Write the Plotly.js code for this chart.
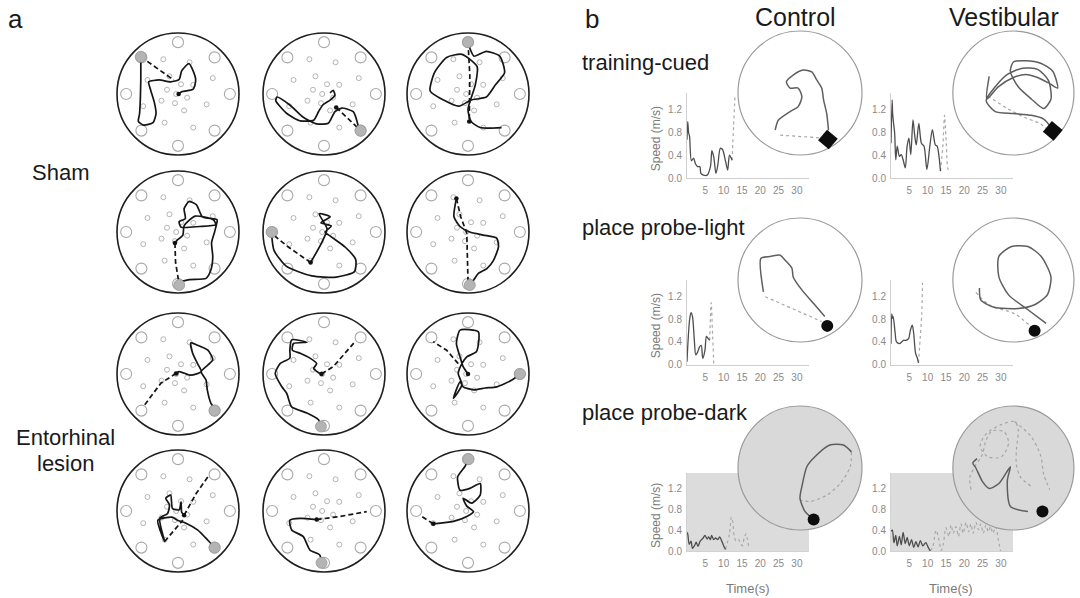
<!DOCTYPE html>
<html><head><meta charset="utf-8">
<script src="https://cdn.plot.ly/plotly-3.0.1.min.js"></script>
<style>html,body{margin:0;padding:0;background:#fff}#chart{width:1080px;height:598px}</style>
</head><body><div id="chart"></div>
<script>
const W = 1080, H = 598;
const FONT = 'Liberation Sans, Arial, Helvetica, sans-serif';

// ---------- Panel a: arena cues (normalized arena units) ----------
const bigCueX = [0, 0.6, 0.85, 0.6, 0, -0.6, -0.85, -0.6];
const bigCueY = [0.85, 0.6, 0, -0.6, -0.85, -0.6, 0, 0.6];
const smallCueX = [-0.24, 0.19, -0.14, -0.5, 0.57, 0.05, 0.25, -0.18, -0.03, 0.15, -0.27, -0.05, 0.47, -0.57, 0.1, -0.22, 0.25];
const smallCueY = [0.57, 0.52, 0.29, 0.23, 0.26, 0.16, 0.15, 0.07, 0.0, -0.06, -0.11, -0.15, -0.17, -0.2, -0.27, -0.47, -0.55];

// ---------- Panel a: trajectories (12 trials, row-major) ----------
const aSolidX = [
  [-0.61,-0.61,-0.63,-0.65,-0.56,-0.41,-0.36,-0.39,-0.45,-0.48,-0.31,-0.12,0.02,0.06,0.18,0.23,0.29,0.25,0.07,0.01],
  [0.1,0.15,0.18,0.1,-0.02,-0.09,-0.17,-0.39,-0.61,-0.79,-0.77,-0.56,-0.34,-0.12,0.07,0.18,0.29,0.48,0.56],
  [0.02,0.1,0.3,0.52,0.6,0.45,0.3,0.05,-0.15,-0.4,-0.62,-0.55,-0.35,-0.1,0.15,0.12,0.0,0.05,0.2,0.55],
  [0.02,0.19,0.46,0.54,0.57,0.55,0.6,0.63,0.64,0.4,0.3,0.18,0.1,0.12,0.02,0.05,0.35,0.62,0.58,0.28,0.1,0.08,-0.02,-0.05],
  [-0.86,-0.82,-0.62,-0.2,0.2,0.5,0.52,0.35,0.12,0.02,0.12,-0.05,0.1,-0.08,0.05,-0.05,-0.22],
  [-0.19,-0.23,-0.13,0.03,0.25,0.47,0.5,0.42,0.31,0.17,0.09,0.03],
  [0.6,0.54,0.48,0.46,0.38,0.57,0.49,0.3,0.21,0.24,0.32,0.38,0.21,0.02,-0.03],
  [-0.05,-0.09,-0.28,-0.53,-0.61,-0.69,-0.8,-0.72,-0.56,-0.56,-0.53,-0.28,-0.5,-0.52,-0.39,-0.23,-0.12,-0.17,-0.07,-0.04],
  [0.85,0.72,0.47,0.28,0.09,-0.08,-0.13,-0.24,-0.1,-0.16,-0.1,-0.02,0.14,0.17,-0.13,-0.19,-0.13,-0.08,0.0],
  [0.6,0.49,0.32,0.13,-0.01,-0.1,-0.33,-0.22,-0.3,-0.17,-0.14,-0.2,-0.12,-0.09,0.02,0.05,0.06,0.1],
  [-0.04,-0.07,-0.23,-0.34,-0.53,-0.56,-0.39,-0.12],
  [0.01,-0.05,-0.17,-0.13,0.03,0.2,0.2,0.06,-0.08,-0.02,0.09,-0.02,-0.24,-0.57]
];
const aSolidY = [
  [0.61,0.23,-0.32,-0.45,-0.51,-0.47,-0.32,-0.13,0.07,0.2,0.23,0.2,0.24,0.38,0.5,0.42,0.23,0.08,0.04,0.0],
  [0.02,0.06,-0.02,-0.1,-0.18,-0.29,-0.43,-0.44,-0.32,-0.11,-0.05,-0.18,-0.38,-0.49,-0.48,-0.29,-0.23,-0.29,-0.52],
  [0.78,0.62,0.7,0.62,0.35,0.15,-0.05,-0.1,-0.2,-0.1,0.05,0.35,0.6,0.65,0.45,0.15,-0.25,-0.45,-0.55,-0.55],
  [-0.82,-0.78,-0.76,-0.62,-0.4,-0.18,0.0,0.12,0.2,0.25,0.45,0.5,0.38,0.22,0.17,0.08,0.09,0.12,0.2,0.26,0.1,-0.05,-0.14,-0.18],
  [-0.02,-0.3,-0.56,-0.72,-0.74,-0.65,-0.45,-0.25,-0.08,0.0,0.1,0.15,0.25,0.3,0.05,-0.2,-0.5],
  [0.55,0.25,0.09,0.0,-0.05,-0.1,-0.24,-0.46,-0.6,-0.68,-0.79,-0.85],
  [-0.56,-0.48,-0.26,-0.1,0.04,0.23,0.39,0.48,0.51,0.34,0.17,0.04,-0.02,0.04,0.01],
  [-0.86,-0.75,-0.64,-0.54,-0.32,-0.21,0.01,0.17,0.26,0.39,0.56,0.52,0.5,0.39,0.34,0.26,0.17,0.09,0.01,0.0],
  [0.0,-0.1,-0.21,-0.23,-0.26,-0.21,-0.13,-0.4,-0.18,0.01,0.17,0.28,0.37,0.69,0.72,0.5,0.28,0.12,0.0],
  [-0.6,-0.48,-0.31,-0.2,-0.15,-0.1,-0.15,-0.5,-0.12,-0.04,0.1,0.21,0.26,0.04,0.02,0.15,-0.02,-0.07],
  [-0.85,-0.72,-0.64,-0.42,-0.31,-0.15,-0.12,-0.14],
  [0.85,0.73,0.56,0.34,0.37,0.45,0.26,0.13,0.21,0.08,-0.01,-0.09,-0.17,-0.21]
];
const aDashX = [
  [-0.61,-0.07],[0.2,0.58],[0.0,0.03,0.02],[-0.05,-0.04,0.01],[-0.22,-0.58,-0.84],
  [-0.19,-0.12,-0.02,0.0],[-0.03,-0.28,-0.55],[-0.04,0.15,0.51],[-0.16,-0.35,-0.57],
  [0.1,0.3,0.49,null,-0.22,0.08],[-0.12,0.26,0.7],[-0.57,-0.79]
];
const aDashY = [
  [0.61,0.23],[-0.22,-0.58],[0.85,0.3,-0.45],[-0.18,-0.5,-0.8],[-0.5,-0.25,-0.04],
  [0.55,0.25,-0.02,-0.8],[0.01,-0.15,-0.51],[0.0,0.12,0.53],[0.17,0.39,0.53],
  [-0.07,0.29,0.56,null,-0.5,-0.15],[-0.14,-0.09,-0.01],[-0.21,-0.07]
];
const aStartX = [-0.61,0.6,0.0,0.02,-0.86,0.03,0.6,-0.05,0.85,0.6,-0.04,0.01];
const aStartY = [0.61,-0.6,0.85,-0.87,0.0,-0.87,-0.6,-0.86,0.0,-0.6,-0.85,0.85];
const aDotX = [0.01,0.2,0.02,-0.05,-0.22,-0.19,-0.03,-0.04,0.0,0.1,-0.12,-0.57];
const aDotY = [0.0,-0.22,-0.45,-0.18,-0.5,0.55,0.01,0.0,0.0,-0.07,-0.14,-0.21];
const aRowLabels = ['Sham', 'Entorhinal', 'lesion'];

// ---------- Panel b: speed profiles (Time s, Speed m/s) ----------
const bConditions = ['training-cued', 'place probe-light', 'place probe-dark'];
const bGroups = ['Control', 'Vestibular'];
const speedSolidT = [
  [0,0.2,0.45,0.7,1.2,1.8,2.3,2.9,3.5,3.8,4.5,5.5,6.4,6.8,7.3,7.9,8.4,9.1,9.7,10.5,11.1,11.6,12.3],
  [0,0.3,0.45,0.7,1.0,1.3,1.7,2.3,2.8,3.3,3.9,4.4,4.9,5.4,6.0,6.5,6.9,7.6,8.3,9.0,9.8,10.6,11.3,12.1,12.6,13.1,13.5],
  [0,0.3,0.7,1.1,1.5,2.0,2.4,2.9,3.4,3.9,4.3,4.9,5.3,5.8,6.2],
  [0,0.2,0.45,0.6,1.1,1.5,2.3,2.9,3.4,4.1,4.8,5.3,5.8,6.2,6.7,7.2,7.5],
  [0,0.2,0.6,1.1,1.5,2.1,2.5,3.0,3.6,4.4,4.9,5.5,5.9,6.4,6.7,7.3,7.8,8.4,8.9,9.5,10.0,10.5],
  [0,0.36,0.8,1.3,1.7,2.3,2.8,3.3,3.9,4.4,5.0,5.6,6.2,6.8,7.4,8.0,8.7,9.5,10.1,10.7]
];
const speedSolidV = [
  [0.67,0.99,0.79,0.73,0.3,0.35,0.25,0.2,0.2,0.08,0.05,0.05,0.2,0.48,0.37,0.08,0.22,0.52,0.5,0.3,0.14,0.4,0.31],
  [0.61,1.37,1.13,0.96,0.79,0.32,0.56,0.38,0.41,0.32,0.18,0.56,0.7,0.41,1.02,0.73,0.58,0.96,0.61,0.56,0.15,0.56,0.85,0.58,0.56,0.38,0.12],
  [0.05,0.43,0.79,0.92,0.85,0.43,0.17,0.22,0.31,0.34,0.11,0.25,0.5,0.46,0.43],
  [0.37,0.9,0.82,0.85,0.58,0.4,0.37,0.4,0.43,0.43,0.46,0.61,0.7,0.55,0.2,0.11,0.03],
  [0.36,0.33,0.13,0.19,0.05,0.11,0.17,0.09,0.19,0.25,0.3,0.23,0.27,0.22,0.3,0.22,0.25,0.22,0.27,0.19,0.1,0.03],
  [0.38,0.4,0.16,0.3,0.1,0.28,0.12,0.36,0.14,0.26,0.1,0.22,0.07,0.18,0.08,0.2,0.1,0.16,0.08,0.0]
];
const speedDotT = [
  [12.3,12.7,13.0,13.1],
  [13.5,14.2,14.6,15.1,15.6,16.2],
  [6.2,6.6,7.0,7.3],
  [7.5,8.0,8.4,8.6],
  [10.5,11.6,12.1,12.5,12.9,13.4,14.1,14.5,15.1,15.6,16.1,16.5,16.9],
  [10.7,11.4,12.3,13.1,13.7,14.3,15.0,15.8,16.4,17.0,17.7,18.4,19.1,19.7,20.5,21.2,21.8,22.4,23.2,23.9,24.5,25.2,25.9,26.6,27.2,27.8,28.6,29.3,29.9]
];
const speedDotV = [
  [0.31,0.9,1.3,1.45],
  [0.12,0.6,1.1,0.6,0.15,0.2],
  [0.43,1.1,0.5,0.02],
  [0.03,0.5,0.9,1.45],
  [0.03,0.33,0.65,0.56,0.27,0.19,0.22,0.16,0.1,0.25,0.33,0.22,0.05],
  [0.0,0.08,0.4,0.21,0.01,0.14,0.45,0.28,0.5,0.34,0.47,0.28,0.52,0.34,0.55,0.37,0.52,0.34,0.55,0.41,0.52,0.34,0.5,0.37,0.47,0.34,0.47,0.21,0.0]
];
const speedTicksX = [5, 10, 15, 20, 25, 30];
const speedTicksY = [0, 0.4, 0.8, 1.2];
const speedTickText = ['0.0', '0.4', '0.8', '1.2'];

// ---------- Panel b: swim paths (normalized arena units) ----------
const bPathX = [
  [-0.4,-0.35,-0.16,-0.03,0.03,-0.03,-0.16,-0.22,-0.11,0.05,0.19,0.27,0.35,0.38,0.43,0.46],
  [-0.4,-0.44,-0.25,0.0,0.2,0.4,0.6,0.73,0.65,0.45,0.2,0.0,-0.05,0.08,0.3,0.5,0.62,0.58,0.4,0.15,-0.1,-0.3,-0.45,-0.3,0.0,0.3,0.5,0.62],
  [-0.59,-0.63,-0.48,-0.32,-0.24,-0.13,-0.11,0.03,0.22,0.4],
  [-0.56,-0.54,-0.32,0.08,0.35,0.56,0.62,0.46,0.24,-0.03,-0.24,-0.24,-0.08,0.24,0.54],
  [0.22,0.08,0.0,0.03,0.11,0.22,0.48,0.7,0.83],
  [-0.6,-0.67,-0.62,-0.51,-0.4,-0.24,-0.05,-0.1,-0.05,0.24]
];
const bPathY = [
  [-0.6,-0.44,-0.3,-0.22,-0.06,0.08,0.08,0.18,0.29,0.37,0.34,0.21,0.08,-0.11,-0.33,-0.6],
  [0.27,-0.1,0.1,0.25,0.3,0.25,0.15,0.08,0.35,0.48,0.52,0.5,0.35,0.1,-0.1,-0.25,-0.1,0.2,0.38,0.4,0.3,0.1,-0.12,-0.3,-0.33,-0.36,-0.42,-0.55],
  [-0.19,0.35,0.38,0.4,0.32,0.19,0.05,-0.16,-0.38,-0.59],
  [-0.13,-0.32,-0.44,-0.46,-0.4,-0.24,0.05,0.38,0.54,0.54,0.38,0.05,-0.24,-0.48,-0.7],
  [-0.83,-0.7,-0.49,-0.3,0.02,0.16,0.37,0.37,0.26],
  [0.15,0.08,0.0,-0.22,-0.33,-0.25,0.02,-0.2,-0.62,-0.7]
];
const bTraceX = [
  [-0.32,0.43],
  [-0.42,-0.1,0.2,0.45,0.6],
  [-0.56,0.35],
  [-0.62,-0.4,0.03,0.32],
  [0.83,0.81,0.65,0.43,0.16,0.02],
  [-0.7,-0.72,-0.62,-0.52,-0.45,-0.35,-0.15,-0.08,-0.2,-0.42,-0.55,-0.45,-0.2,0.02,0.08,0.05,0.05,0.12,0.3,null,0.02,0.3,0.45,0.5,0.6]
];
const bTraceY = [
  [-0.68,-0.73],
  [-0.05,-0.25,-0.4,-0.5,-0.62],
  [-0.27,-0.67],
  [-0.2,-0.4,-0.55,-0.78],
  [0.26,0.02,-0.25,-0.44,-0.54,-0.52],
  [-0.35,-0.15,0.05,0.2,0.45,0.6,0.58,0.4,0.18,0.18,0.35,0.55,0.7,0.75,0.62,0.3,0.05,-0.15,-0.3,null,0.75,0.5,0.2,-0.1,-0.35]
];
const bGoalX = [0.45, 0.65, 0.44, 0.35, 0.22, 0.48];
const bGoalY = [-0.75, -0.61, -0.74, -0.82, -0.83, -0.7];
const bGoalSymbol = ['square', 'square', 'circle', 'circle', 'circle', 'circle'];

// ---------- layout geometry (pixels) ----------
const aColPx = [178, 324, 468], aRowPx = [94, 232, 374, 511], aR = 61;
const bColPx = [800, 1015], bRowPx = [93, 280, 468], bR = 62;
const spXPx = [[687, 809], [891, 1013]];
const spYPx = [[92.5, 178], [280, 364.5], [473, 551]];
const PAD = 1.1;

const fx = p => p / W;
const fy = p => 1 - p / H;

const traces = [];
const layout = {
  width: W, height: H, margin: {l: 0, r: 0, t: 0, b: 0},
  paper_bgcolor: '#ffffff', plot_bgcolor: 'rgba(0,0,0,0)',
  showlegend: false, font: {family: FONT},
  shapes: [], annotations: []
};
const axId = n => (n === 1 ? '' : String(n));

function arenaAxes(n, cx, cy, R) {
  const h = R * PAD;
  layout['xaxis' + axId(n)] = {domain: [fx(cx - h), fx(cx + h)], range: [-PAD, PAD], visible: false, fixedrange: true, anchor: 'y' + axId(n)};
  layout['yaxis' + axId(n)] = {domain: [fy(cy + h), fy(cy - h)], range: [-PAD, PAD], visible: false, fixedrange: true, anchor: 'x' + axId(n)};
}

// Panel a
let n = 0;
for (let r = 0; r < 4; r++) {
  for (let c = 0; c < 3; c++) {
    const i = r * 3 + c;
    n++;
    arenaAxes(n, aColPx[c], aRowPx[r], aR);
    const xa = 'x' + axId(n), ya = 'y' + axId(n);
    layout.shapes.push({type: 'circle', xref: xa, yref: ya, x0: -1, y0: -1, x1: 1, y1: 1, line: {color: '#1e1e1e', width: 1.6}, layer: 'below'});
    traces.push({type: 'scatter', mode: 'markers', x: bigCueX, y: bigCueY, xaxis: xa, yaxis: ya, cliponaxis: false,
      marker: {symbol: 'circle-open', size: 11, color: '#a9a9a9', line: {width: 1.1}}, hoverinfo: 'skip'});
    traces.push({type: 'scatter', mode: 'markers', x: smallCueX, y: smallCueY, xaxis: xa, yaxis: ya, cliponaxis: false,
      marker: {symbol: 'circle-open', size: 5, color: '#ababab', line: {width: 0.9}}, hoverinfo: 'skip'});
    traces.push({type: 'scatter', mode: 'lines', x: aDashX[i], y: aDashY[i], xaxis: xa, yaxis: ya, cliponaxis: false,
      line: {color: '#151515', width: 1.7, dash: '5px,3px'}, hoverinfo: 'skip'});
    traces.push({type: 'scatter', mode: 'lines', x: aSolidX[i], y: aSolidY[i], xaxis: xa, yaxis: ya, cliponaxis: false,
      line: {color: '#151515', width: 1.7, shape: 'spline', smoothing: 0.6}, hoverinfo: 'skip'});
    traces.push({type: 'scatter', mode: 'markers', x: [aStartX[i]], y: [aStartY[i]], xaxis: xa, yaxis: ya, cliponaxis: false,
      marker: {symbol: 'circle', size: 11, color: '#b4b4b4', line: {color: '#9a9a9a', width: 0.8}}, hoverinfo: 'skip'});
    traces.push({type: 'scatter', mode: 'markers', x: [aDotX[i]], y: [aDotY[i]], xaxis: xa, yaxis: ya, cliponaxis: false,
      marker: {symbol: 'circle', size: 4.5, color: '#111'}, hoverinfo: 'skip'});
  }
}

// Panel b speed plots
for (let r = 0; r < 3; r++) {
  for (let c = 0; c < 2; c++) {
    const i = r * 2 + c;
    n++;
    const xa = 'x' + axId(n), ya = 'y' + axId(n);
    const dark = r === 2;
    layout['xaxis' + axId(n)] = {
      domain: [fx(spXPx[c][0]), fx(spXPx[c][1])], range: [0, 33.3], anchor: ya,
      tickvals: speedTicksX, showline: true, linecolor: dark ? '#d2d2d2' : '#cfcfcf', linewidth: 1,
      showgrid: false, zeroline: false, ticks: 'outside', ticklen: 3, tickcolor: 'rgba(0,0,0,0)',
      tickfont: {size: 10, color: '#8a8a8a', family: FONT}, fixedrange: true
    };
    layout['yaxis' + axId(n)] = {
      domain: [fy(spYPx[r][1]), fy(spYPx[r][0])], range: [0, 1.5], anchor: xa,
      tickvals: speedTicksY, ticktext: speedTickText, showline: true, linecolor: dark ? '#d2d2d2' : '#cfcfcf', linewidth: 1,
      showgrid: false, zeroline: false, ticks: 'outside', ticklen: 2, tickcolor: 'rgba(0,0,0,0)',
      tickfont: {size: 10, color: '#8a8a8a', family: FONT}, fixedrange: true
    };
    if (dark) {
      layout.shapes.push({type: 'rect', xref: xa + ' domain', yref: ya + ' domain', x0: 0, x1: 1, y0: 0, y1: 1,
        fillcolor: '#dcdcdc', line: {width: 0}, layer: 'below'});
    }
    traces.push({type: 'scatter', mode: 'lines', x: speedDotT[i], y: speedDotV[i], xaxis: xa, yaxis: ya, cliponaxis: false,
      line: {color: '#a8a8a8', width: 1.2, dash: 'dot', shape: 'spline', smoothing: 0.8}, hoverinfo: 'skip'});
    traces.push({type: 'scatter', mode: 'lines', x: speedSolidT[i], y: speedSolidV[i], xaxis: xa, yaxis: ya, cliponaxis: false,
      line: {color: '#4d4d4d', width: 1.3, shape: 'spline', smoothing: 0.8}, hoverinfo: 'skip'});
  }
}

// Panel b arenas
for (let r = 0; r < 3; r++) {
  for (let c = 0; c < 2; c++) {
    const i = r * 2 + c;
    n++;
    arenaAxes(n, bColPx[c], bRowPx[r], bR);
    const xa = 'x' + axId(n), ya = 'y' + axId(n);
    const dark = r === 2;
    layout.shapes.push({type: 'circle', xref: xa, yref: ya, x0: -1, y0: -1, x1: 1, y1: 1,
      fillcolor: dark ? '#d9d9d9' : 'rgba(0,0,0,0)', line: {color: '#9a9a9a', width: 1.2}, layer: 'below'});
    traces.push({type: 'scatter', mode: 'lines', x: bTraceX[i], y: bTraceY[i], xaxis: xa, yaxis: ya, cliponaxis: false,
      line: {color: '#a5a5a5', width: 1.2, dash: 'dot', shape: 'spline', smoothing: 0.8}, hoverinfo: 'skip'});
    traces.push({type: 'scatter', mode: 'lines', x: bPathX[i], y: bPathY[i], xaxis: xa, yaxis: ya, cliponaxis: false,
      line: {color: '#5e5e5e', width: 1.5, shape: 'spline', smoothing: 0.7}, hoverinfo: 'skip'});
    traces.push({type: 'scatter', mode: 'markers', x: [bGoalX[i]], y: [bGoalY[i]], xaxis: xa, yaxis: ya, cliponaxis: false,
      marker: {symbol: bGoalSymbol[i], size: bGoalSymbol[i] === 'square' ? 14 : 12, angle: bGoalSymbol[i] === 'square' ? 40 : 0, color: '#0d0d0d'}, hoverinfo: 'skip'});
  }
}

// Text
function txt(text, xpx, ypx, size, opts) {
  layout.annotations.push(Object.assign({
    text: text, xref: 'paper', yref: 'paper', x: fx(xpx), y: fy(ypx), showarrow: false,
    xanchor: 'center', yanchor: 'middle', font: {family: FONT, size: size, color: '#1a1a1a'}
  }, opts || {}));
}
txt('a', 15, 19, 26);
txt('b', 592, 19, 26);
txt(bGroups[0], 795, 17, 25);
txt(bGroups[1], 1004, 17, 25);
txt(bConditions[0], 580, 62, 22, {xanchor: 'left'});
txt(bConditions[1], 580, 227, 22, {xanchor: 'left'});
txt(bConditions[2], 580, 412, 22, {xanchor: 'left'});
txt(aRowLabels[0], 60, 172, 22);
txt(aRowLabels[1], 65, 437, 22);
txt(aRowLabels[2], 65, 463, 22);
for (let r = 0; r < 3; r++) {
  txt('Speed (m/s)', 656, (spYPx[r][0] + spYPx[r][1]) / 2 + 4, 12, {textangle: -90, font: {family: FONT, size: 12, color: '#7a7a7a'}});
}
txt('Time(s)', 748, 588, 13, {font: {family: FONT, size: 13, color: '#7a7a7a'}});
txt('Time(s)', 951, 588, 13, {font: {family: FONT, size: 13, color: '#7a7a7a'}});

Plotly.newPlot('chart', traces, layout, {staticPlot: true, displayModeBar: false});
</script></body></html>
